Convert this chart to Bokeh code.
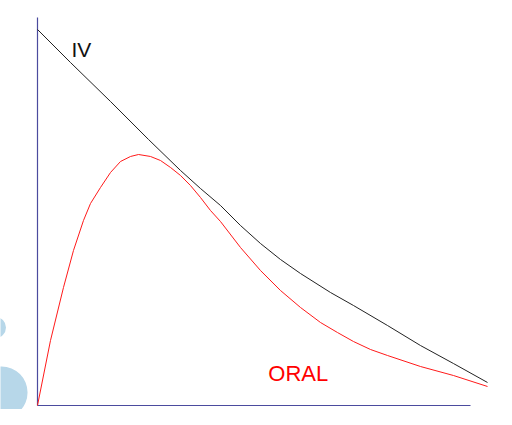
from bokeh.plotting import figure
from bokeh.models import Range1d
from bokeh.core.properties import value
from bokeh.embed import file_html
from bokeh.resources import INLINE

# Time (arbitrary units) and plasma concentration (arbitrary units)
iv_t = [0.0, 0.762, 1.686, 2.564, 3.303, 3.764, 4.226, 4.688, 5.150, 5.612,
        6.074, 6.767, 7.298, 8.083, 8.845, 9.607, 10.393]
iv_c = [9.691, 8.840, 7.835, 6.856, 6.057, 5.593, 5.155, 4.639, 4.175, 3.763,
        3.402, 2.912, 2.577, 2.062, 1.546, 1.082, 0.593]

oral_t = [0.0, 0.300, 0.600, 0.831, 1.062, 1.224, 1.455, 1.686, 1.917, 2.148,
          2.333, 2.610, 2.841, 3.072, 3.303, 3.533, 3.764, 3.995, 4.226, 4.688,
          5.150, 5.612, 6.074, 6.536, 6.928, 7.298, 7.691, 8.083, 8.845, 9.607,
          10.393]
oral_c = [0.0, 1.675, 3.041, 3.995, 4.768, 5.206, 5.619, 6.005, 6.289, 6.418,
          6.469, 6.418, 6.314, 6.134, 5.928, 5.670, 5.361, 5.026, 4.742, 4.072,
          3.479, 2.964, 2.526, 2.139, 1.881, 1.649, 1.443, 1.289, 1.005, 0.773,
          0.490]

labels = ["IV", "ORAL"]
label_t = [0.785, 5.33]
label_c = [9.18, 0.83]

axis_t_max = 10
axis_c_max = 10

p = figure(width=496, height=409, output_backend="svg", toolbar_location=None,
           x_range=Range1d(-0.8545, 10.6005), y_range=Range1d(-0.103, 10.438),
           min_border=0)
p.xaxis.visible = False
p.yaxis.visible = False
p.xgrid.visible = False
p.ygrid.visible = False
p.outline_line_color = None
p.background_fill_color = "white"
p.border_fill_color = "white"

# decorative circles at left edge
p.scatter([-0.97, -0.83], [2.01, 0.335], size=[21, 52], marker="circle",
          fill_color="#b7d7e9", line_color=None)

# axes lines
axis_color = "#4b4b9e"
p.segment(x0=[0, 0], y0=[0, 0], x1=[0, axis_t_max], y1=[axis_c_max, 0],
          line_color=axis_color, line_width=1.2)

p.line(iv_t, iv_c, line_color="#222222", line_width=1)
p.line(oral_t, oral_c, line_color="#ff1a1a", line_width=1)

p.text(x=[label_t[0]], y=[label_c[0]], text=[labels[0]], text_color="#111111",
       text_font=value("Liberation Sans"), text_font_size="21px",
       text_align="left", text_baseline="alphabetic")
p.text(x=[label_t[1]], y=[label_c[1]], text=[labels[1]], text_color="#ff0000",
       text_font=value("Liberation Sans"), text_font_size="22px",
       text_align="left", text_baseline="alphabetic")

open("out.html", "w").write(file_html(p, INLINE))
